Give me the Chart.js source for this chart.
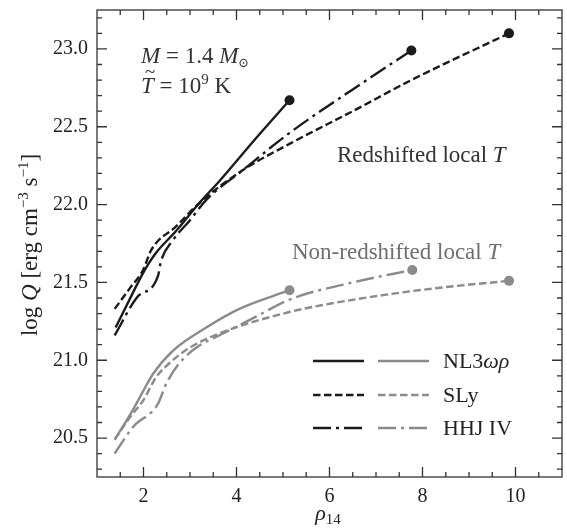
<!DOCTYPE html>
<html>
<head>
<meta charset="utf-8">
<script src="https://cdn.jsdelivr.net/npm/chart.js@4.4.0/dist/chart.umd.min.js"></script>
<style>
  html, body { margin: 0; padding: 0; background: #fff; }
  canvas { display: block; }
</style>
</head>
<body>
<canvas id="q-chart" width="567" height="529"></canvas>
<script>
// Emissivity vs. central density for a 1.4 Msun star, T = 1e9 K

// tick labels
const xTicks = [2, 4, 6, 8, 10];
const yTicks = [20.5, 21.0, 21.5, 22.0, 22.5, 23.0];

// redshifted local T (black)
const nl3RedRho = [1.40, 1.70, 1.99, 2.27, 2.70, 3.20, 3.63, 4.40, 5.14];
const nl3RedQ   = [21.21, 21.39, 21.56, 21.69, 21.83, 22.01, 22.15, 22.42, 22.67];
const slyRedRho = [1.38, 1.70, 1.99, 2.17, 2.70, 3.20, 4.13, 5.14, 6.50, 7.76, 9.86];
const slyRedQ   = [21.33, 21.46, 21.58, 21.71, 21.86, 22.01, 22.22, 22.39, 22.60, 22.80, 23.10];
const hhjRedRho = [1.38, 1.85, 2.31, 2.38, 2.63, 3.00, 3.35, 4.13, 5.14, 6.50, 7.76];
const hhjRedQ   = [21.16, 21.40, 21.54, 21.64, 21.77, 21.90, 22.03, 22.22, 22.46, 22.74, 22.99];

// non-redshifted local T (grey)
const nl3Rho = [1.38, 1.77, 1.99, 2.20, 2.63, 3.35, 4.06, 5.14];
const nl3Q   = [20.49, 20.68, 20.80, 20.91, 21.06, 21.21, 21.33, 21.45];
const slyRho = [1.38, 1.70, 1.99, 2.27, 2.63, 2.99, 3.70, 5.14, 6.14, 7.42, 8.50, 9.86];
const slyQ   = [20.49, 20.63, 20.74, 20.89, 21.00, 21.08, 21.18, 21.31, 21.37, 21.43, 21.47, 21.51];
const hhjRho = [1.38, 1.77, 2.31, 2.49, 2.77, 3.13, 3.70, 4.42, 5.14, 6.50, 7.78];
const hhjQ   = [20.40, 20.57, 20.72, 20.85, 20.98, 21.08, 21.17, 21.28, 21.39, 21.50, 21.58];

const BLACK = '#1b1b1b';
const GREY = '#8b8b8b';
const SERIF = "'Liberation Serif', 'DejaVu Serif', serif";
const DASH = [7.5, 3.5];
const DASHDOT = [18, 5, 3, 5];

const zip = (xs, ys) => xs.map((x, i) => ({ x: x, y: ys[i] }));

function series(label, xs, ys, color, dash) {
  return {
    label: label,
    data: zip(xs, ys),
    borderColor: color,
    backgroundColor: color,
    borderWidth: 2.4,
    borderDash: dash,
    cubicInterpolationMode: 'monotone',
    pointRadius: c => c.dataIndex === xs.length - 1 ? 5 : 0,
    pointBorderWidth: 0,
    pointHoverRadius: 0
  };
}

const datasets = [
  series('NL3wr', nl3RedRho, nl3RedQ, BLACK, []),
  series('SLy', slyRedRho, slyRedQ, BLACK, DASH),
  series('HHJ IV', hhjRedRho, hhjRedQ, BLACK, DASHDOT),
  series('NL3wr grey', nl3Rho, nl3Q, GREY, []),
  series('SLy grey', slyRho, slyQ, GREY, DASH),
  series('HHJ IV grey', hhjRho, hhjQ, GREY, DASHDOT)
];

// text made of pieces: {t, it (italic), s (size), dy}
function drawRich(ctx, parts, x, y, align) {
  let total = 0;
  parts.forEach(p => {
    ctx.font = (p.it ? 'italic ' : '') + p.s + 'px ' + SERIF;
    p.w = ctx.measureText(p.t).width;
    total += p.w;
  });
  let cx = align === 'center' ? x - total / 2 : x;
  ctx.textAlign = 'left';
  ctx.textBaseline = 'alphabetic';
  parts.forEach(p => {
    ctx.font = (p.it ? 'italic ' : '') + p.s + 'px ' + SERIF;
    ctx.fillText(p.t, cx, y + (p.dy || 0));
    cx += p.w;
  });
}

const framePlugin = {
  id: 'frame',
  afterDraw(chart) {
    const ctx = chart.ctx;
    const a = chart.chartArea;
    const xs = chart.scales.x, ys = chart.scales.y;
    ctx.save();
    ctx.strokeStyle = '#333';
    ctx.lineWidth = 1.3;
    ctx.setLineDash([]);
    ctx.strokeRect(a.left, a.top, a.right - a.left, a.bottom - a.top);

    // inward ticks on all four sides
    ctx.beginPath();
    for (let v = 1.5; v < 11; v += 0.5) {
      const px = xs.getPixelForValue(v);
      const len = Math.abs(v - Math.round(v / 2) * 2) < 1e-6 ? 10 : 5;
      ctx.moveTo(px, a.bottom); ctx.lineTo(px, a.bottom - len);
      ctx.moveTo(px, a.top); ctx.lineTo(px, a.top + len);
    }
    for (let k = 203; k <= 232; k++) {
      const v = k / 10;
      const py = ys.getPixelForValue(v);
      const len = k % 5 === 0 ? 10 : 5;
      ctx.moveTo(a.left, py); ctx.lineTo(a.left + len, py);
      ctx.moveTo(a.right, py); ctx.lineTo(a.right - len, py);
    }
    ctx.stroke();

    // annotations
    ctx.fillStyle = '#333';
    drawRich(ctx, [
      { t: 'M', it: true, s: 23 }, { t: ' = 1.4 ', s: 23 },
      { t: 'M', it: true, s: 23 }, { t: '\u2299', s: 13, dy: 4 }
    ], 141, 63, 'left');
    drawRich(ctx, [
      { t: 'T', it: true, s: 23 }, { t: ' = 10', s: 23 },
      { t: '9', s: 15, dy: -9 }, { t: ' K', s: 23 }
    ], 141, 93, 'left');
    ctx.font = '19px ' + SERIF;
    ctx.fillText('~', 145, 78);

    drawRich(ctx, [
      { t: 'Redshifted local ', s: 23 }, { t: 'T', it: true, s: 23 }
    ], 337, 162, 'left');
    ctx.fillStyle = '#6f6f6f';
    drawRich(ctx, [
      { t: 'Non-redshifted local ', s: 23 }, { t: 'T', it: true, s: 23 }
    ], 292, 259, 'left');

    // legend: black sample, grey sample, name
    const names = [
      [{ t: 'NL3', s: 22 }, { t: '\u03c9\u03c1', it: true, s: 22 }],
      [{ t: 'SLy', s: 22 }],
      [{ t: 'HHJ IV', s: 22 }]
    ];
    const rowY = [361, 395, 428];
    for (let i = 0; i < 3; i++) {
      [datasets[i], datasets[i + 3]].forEach((d, j) => {
        ctx.beginPath();
        ctx.strokeStyle = d.borderColor;
        ctx.lineWidth = d.borderWidth;
        ctx.setLineDash(d.borderDash);
        const x0 = j === 0 ? 313 : 378;
        ctx.moveTo(x0, rowY[i]); ctx.lineTo(x0 + 51, rowY[i]);
        ctx.stroke();
      });
      ctx.setLineDash([]);
      ctx.fillStyle = '#222';
      drawRich(ctx, names[i], 443, rowY[i] + 7, 'left');
    }

    // axis titles
    ctx.fillStyle = '#222';
    drawRich(ctx, [
      { t: '\u03c1', it: true, s: 22 }, { t: '14', s: 15, dy: 4 }
    ], 328, 520, 'center');
    ctx.translate(37, 245);
    ctx.rotate(-Math.PI / 2);
    drawRich(ctx, [
      { t: 'log ', s: 23 }, { t: 'Q', it: true, s: 23 },
      { t: ' [erg cm', s: 23 }, { t: '\u22123', s: 15, dy: -9 },
      { t: ' s', s: 23 }, { t: '\u22121', s: 15, dy: -9 }, { t: ']', s: 23 }
    ], 0, 0, 'center');
    ctx.restore();
  }
};

const tickFont = { family: SERIF, size: 20 };

const qChart = new Chart(document.getElementById('q-chart'), {
  type: 'line',
  data: { datasets: datasets },
  options: {
    responsive: false,
    animation: false,
    events: [],
    layout: { padding: { left: 0, right: 4, top: 10, bottom: 0 } },
    plugins: {
      legend: { display: false },
      tooltip: { enabled: false }
    },
    scales: {
      x: {
        type: 'linear',
        min: 1,
        max: 11,
        afterBuildTicks: s => { s.ticks = xTicks.map(v => ({ value: v })); },
        afterFit: s => { s.height = 52; s.paddingLeft = 0; s.paddingRight = 0; },
        grid: { display: false, drawTicks: false },
        border: { display: false },
        ticks: { font: tickFont, color: '#222', padding: 8, maxRotation: 0 }
      },
      y: {
        type: 'linear',
        min: 20.25,
        max: 23.25,
        afterBuildTicks: s => { s.ticks = yTicks.map(v => ({ value: v })); },
        afterFit: s => { s.width = 97; s.paddingTop = 0; s.paddingBottom = 0; },
        grid: { display: false, drawTicks: false },
        border: { display: false },
        ticks: { font: tickFont, color: '#222', padding: 9, callback: v => v.toFixed(1) }
      }
    }
  },
  plugins: [framePlugin]
});
</script>
</body>
</html>
